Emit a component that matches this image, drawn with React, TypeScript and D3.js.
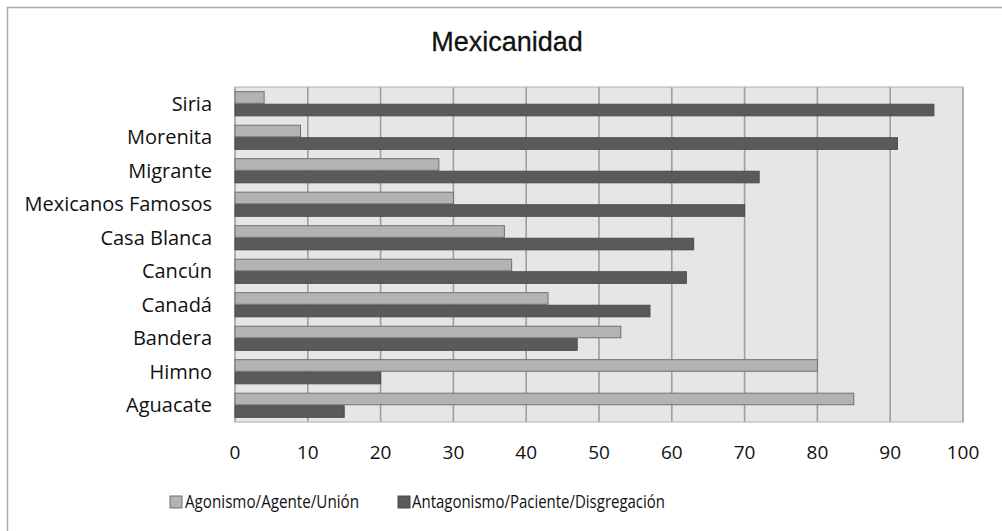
import React from "react";
import * as d3 from "d3";

const categories = ["Siria", "Morenita", "Migrante", "Mexicanos Famosos", "Casa Blanca", "Cancún", "Canadá", "Bandera", "Himno", "Aguacate"];
const agonismo = [4, 9, 28, 30, 37, 38, 43, 53, 80, 85];
const antagonismo = [96, 91, 72, 70, 63, 62, 57, 47, 20, 15];
const seriesNames = ["Agonismo/Agente/Unión", "Antagonismo/Paciente/Disgregación"];
const xTicks = [0, 10, 20, 30, 40, 50, 60, 70, 80, 90, 100];
const title = "Mexicanidad";

const W = 1002;
const H = 531;
const plot = { left: 235, right: 963, top: 87, bottom: 422 };
const labelFont = "'Open Sans', 'Noto Sans', sans-serif";

export default function App() {
  const x = d3.scaleLinear().domain([0, 100]).range([plot.left, plot.right]);
  const y = d3
    .scaleBand<string>()
    .domain(categories)
    .range([plot.top, plot.bottom])
    .paddingInner(0.25)
    .paddingOuter(0.125);
  const sub = d3.scaleBand<string>().domain(["a", "b"]).range([0, y.bandwidth()]);
  const series = [
    { key: "a", values: agonismo, fill: "#b3b3b3", stroke: "#707070" },
    { key: "b", values: antagonismo, fill: "#5a5a5a", stroke: "#4a4a4a" },
  ];
  const legend = [
    { box: 170, tx: 185, len: 174 },
    { box: 398, tx: 412, len: 253 },
  ];

  return (
    <svg
      width={W}
      height={H}
      style={{ position: "absolute", left: 0, top: 0, background: "#fff" }}
    >
      <rect x={7.5} y={7.5} width={W + 20} height={H + 20} fill="#fff" stroke="#a8a8a8" strokeWidth={1.5} />
      <text x={507} y={51} textAnchor="middle" fontFamily="'Liberation Sans', Arial, sans-serif" fontSize={27} fill="#111" stroke="#111" strokeWidth={0.3}>
        {title}
      </text>
      <rect x={plot.left} y={plot.top} width={plot.right - plot.left} height={plot.bottom - plot.top} fill="#e6e6e6" />
      {xTicks.map((t) => (
        <line key={"g" + t} x1={x(t)} x2={x(t)} y1={plot.top} y2={plot.bottom} stroke="#9e9e9e" strokeWidth={1.6} />
      ))}
      <rect x={plot.left} y={plot.top} width={plot.right - plot.left} height={plot.bottom - plot.top} fill="none" stroke="#b0b0b0" strokeWidth={1} />
      {categories.map((c, i) => (
        <g key={c}>
          {series.map((s) => (
            <rect
              key={s.key}
              x={x(0)}
              y={(y(c) as number) + (sub(s.key) as number) + 0.5}
              width={x(s.values[i]) - x(0)}
              height={sub.bandwidth() - 1}
              fill={s.fill}
              stroke={s.stroke}
              strokeWidth={1}
            />
          ))}
          <text
            x={212}
            y={(y(c) as number) + y.bandwidth() / 2}
            dy="0.35em"
            textAnchor="end"
            fontFamily={labelFont}
            fontSize={20}
            fill="#111"
          >
            {c}
          </text>
        </g>
      ))}
      {xTicks.map((t) => (
        <text key={"t" + t} x={x(t)} y={452} dy="0.35em" textAnchor="middle" fontFamily={labelFont} fontSize={19} fill="#111">
          {t}
        </text>
      ))}
      {series.map((s, i) => (
        <g key={"l" + s.key}>
          <rect x={legend[i].box} y={496} width={12} height={12} fill={s.fill} stroke={s.stroke} strokeWidth={1} />
          <text
            x={legend[i].tx}
            y={502}
            dy="0.35em"
            fontFamily={labelFont}
            fontSize={18}
            fill="#111"
            textLength={legend[i].len}
            lengthAdjust="spacingAndGlyphs"
          >
            {seriesNames[i]}
          </text>
        </g>
      ))}
    </svg>
  );
}
